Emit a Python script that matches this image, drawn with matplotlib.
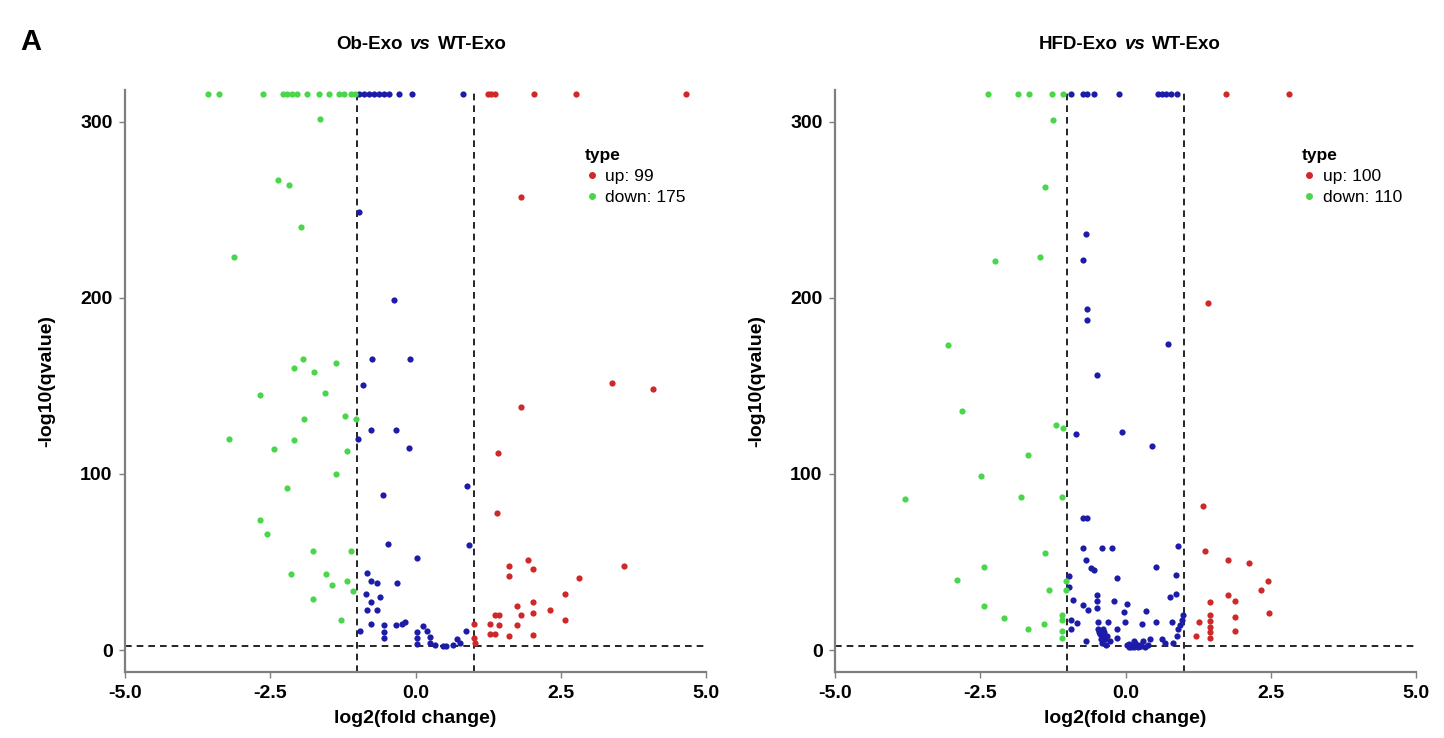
import matplotlib
matplotlib.use("Agg")
import matplotlib.pyplot as plt
from matplotlib.lines import Line2D

plt.rcParams['font.family'] = ['Liberation Sans', 'DejaVu Sans']

# ---- data: Ob-Exo vs WT-Exo ----
ob_up_x = [1.82, 3.38, 4.08, 1.81, 1.41, 1.40, 3.59, 1.94, 2.02, 1.60,
           1.60, 2.81, 2.58, 1.75, 2.02, 2.32, 1.82, 2.02, 2.58, 1.36,
           1.44, 1.28, 1.44, 1.75, 1.28, 1.36, 1.60, 2.02, 1.01, 1.01,
           1.02, 1.24, 1.30, 1.36, 2.03, 2.76, 4.66]
ob_up_y = [257, 151.6, 148, 138, 112, 78, 47.5, 51, 46, 47.5,
           42, 41, 32, 25, 27, 23, 20, 21, 17, 20,
           20, 15, 14, 14, 9, 9, 8, 8.5, 15, 7,
           4, 316, 316, 316, 316, 316, 316]

ob_down_x = [-1.64, -2.36, -2.17, -1.97, -3.13, -1.93, -2.10, -1.74, -1.37, -2.67,
             -1.56, -1.92, -1.22, -1.03, -3.21, -2.09, -2.43, -1.18, -1.37, -2.21,
             -2.67, -2.55, -1.77, -1.11, -2.14, -1.55, -1.43, -1.18, -1.08, -1.77,
             -1.28, -3.58, -3.39, -2.63, -2.29, -2.21, -2.13, -2.04, -1.87, -1.67,
             -1.49, -1.32, -1.24, -1.12, -1.05]
ob_down_y = [301.5, 267, 264, 240, 223, 165.5, 160, 158, 163, 145,
             146, 131, 133, 131, 120, 119, 114, 113, 100, 92,
             74, 66, 56, 56, 43, 43, 37, 39, 33.6, 29,
             17, 316, 316, 316, 316, 316, 316, 316, 316, 316,
             316, 316, 316, 316, 316]

ob_ns_x = [-0.97, -0.37, -0.75, -0.10, -0.90, -0.99, -0.77, -0.34, -0.12, -0.56,
           0.89, -0.48, 0.92, 0.03, -0.83, -0.76, -0.67, -0.32, -0.86, -0.61,
           -0.76, -0.83, -0.66, -0.76, -0.95, -0.55, -0.55, -0.55, -0.33, -0.24,
           -0.18, 0.03, 0.03, 0.03, 0.13, 0.20, 0.25, 0.25, 0.33, 0.47,
           0.53, 0.64, 0.71, 0.77, 0.86, -0.97, -0.88, -0.80, -0.72, -0.63,
           -0.55, -0.45, -0.28, -0.07, 0.81]
ob_ns_y = [249, 198.5, 165, 165, 150.5, 120, 125, 125, 115, 88,
           93, 60, 59.5, 52, 44, 39, 38, 38, 32, 30,
           27, 23, 23, 15, 11, 14, 10.5, 6.6, 14, 15,
           16, 10, 6.6, 3.4, 13.7, 10.7, 7.3, 3.8, 3, 2,
           2, 2.6, 6, 4, 11, 316, 316, 316, 316, 316,
           316, 316, 316, 316, 316]

# ---- data: HFD-Exo vs WT-Exo ----
hfd_up_x = [1.42, 1.34, 1.37, 1.77, 2.12, 2.45, 2.33, 1.77, 1.88, 1.46,
            2.47, 1.88, 1.27, 1.46, 1.46, 1.46, 1.46, 1.46, 1.88, 1.21,
            1.72, 2.82]
hfd_up_y = [197, 82, 56, 51, 49.5, 39, 34, 31, 28, 27,
            21, 19, 16, 20, 16.5, 13.3, 10, 7, 11, 7.7,
            316, 316]

hfd_down_x = [-1.25, -1.38, -2.24, -1.48, -3.06, -2.81, -1.20, -1.08, -1.68, -2.49,
              -3.80, -1.80, -1.09, -1.38, -2.43, -2.91, -1.32, -1.02, -1.02, -2.43,
              -2.10, -1.68, -1.41, -1.09, -1.09, -1.09, -1.09, -2.37, -1.86, -1.66,
              -1.26, -1.08]
hfd_down_y = [301, 263, 221, 223, 173, 135.6, 127.5, 125.8, 110.5, 99,
              86, 87, 87, 55, 47, 40, 34, 39, 34, 25,
              18, 12, 15, 20, 17, 11, 6.7, 316, 316, 316,
              316, 316]

hfd_ns_x = [-0.69, -0.74, -0.66, -0.66, 0.73, -0.50, -0.85, -0.06, 0.45, -0.74,
            -0.66, -0.73, -0.40, -0.24, 0.90, -0.68, -0.60, -0.55, -0.15, 0.53,
            0.875, -0.97, -0.97, 0.76, 0.875, -0.91, -0.49, -0.49, -0.49, -0.74,
            -0.65, -0.20, 0.03, 0.35, -0.02,
            -0.94, -0.84, -0.94, -0.48, -0.30, -0.01, 0.28, 0.52, 0.79, 0.94,
            -0.69, -0.47, -0.44, -0.41, -0.38, -0.35, -0.32, -0.26, -0.15, -0.15,
            0.03, 0.08, 0.12, 0.16, 0.20, 0.25, 0.30, 0.38, 0.42, 0.62,
            0.68, 0.82, 0.88, 0.91, 0.97, 0.99,
            -0.45, -0.42, -0.40, -0.37, -0.34, -0.43, -0.39, 0.05, 0.10, 0.14,
            0.18, 0.22, 0.27, 0.33, 0.06, 0.15, 0.24,
            -0.94, -0.74, -0.66, -0.55, -0.12, 0.55, 0.62, 0.70, 0.78, 0.88]
hfd_ns_y = [236, 221.5, 193.6, 187.3, 173.6, 156, 122.7, 124, 116, 75,
            75, 58, 58, 58, 59, 51, 46.5, 45.5, 41, 47,
            42.5, 42, 36, 30, 32, 28.5, 31.5, 28, 24, 25.5,
            22.5, 28, 26, 22, 21.5,
            17, 15.6, 12, 16, 16, 16, 15, 16, 16, 14,
            5, 12, 9, 7, 10, 6, 8, 5, 12, 7,
            3, 2, 2, 4, 3, 2, 5, 3, 6, 6,
            4, 4, 8, 12, 17, 20,
            10, 11, 4, 8, 3, 6, 12, 1.5, 1.5, 1.5,
            2.5, 1.5, 2, 1.5, 3.5, 5, 3,
            316, 316, 316, 316, 316, 316, 316, 316, 316, 316]

panels = [
    ("Ob-Exo", ob_up_x, ob_up_y, ob_down_x, ob_down_y, ob_ns_x, ob_ns_y, "up: 99", "down: 175"),
    ("HFD-Exo", hfd_up_x, hfd_up_y, hfd_down_x, hfd_down_y, hfd_ns_x, hfd_ns_y, "up: 100", "down: 110"),
]

red = "#CF2828"
green = "#4AD64A"
blue = "#1C1CA8"
spine_grey = "#7F7F7F"

fig = plt.figure(figsize=(14.44, 7.38), dpi=100)
lefts = [0.0866, 0.5783]
vs_pos = [0.291, 0.786]
legend_x = [0.77, 0.783]
title_size = 13.5

for i, (name, ux, uy, dx, dy, nx, ny, up_lab, down_lab) in enumerate(panels):
    ax = fig.add_axes([lefts[i], 0.0894, 0.4024, 0.7886])
    ax.scatter(nx, ny, s=20, color=blue, linewidths=0, zorder=3)
    ax.scatter(ux, uy, s=20, color=red, linewidths=0, zorder=3)
    ax.scatter(dx, dy, s=20, color=green, linewidths=0, zorder=3)

    # thresholds
    for xv in (-1, 1):
        ax.axvline(xv, color="black", ls=(0, (4, 3)), lw=1.2, zorder=2)
    ax.axhline(2, color="black", ls=(0, (4, 3)), lw=1.2, zorder=2)

    ax.set_xlim(-5, 5)
    ax.set_ylim(-12.5, 318)
    ax.set_xticks([-5, -2.5, 0, 2.5, 5])
    ax.set_xticklabels(["-5.0", "-2.5", "0.0", "2.5", "5.0"])
    ax.set_yticks([0, 100, 200, 300])

    for s in ("top", "right"):
        ax.spines[s].set_visible(False)
    for s in ("left", "bottom"):
        ax.spines[s].set_color(spine_grey)
        ax.spines[s].set_linewidth(1.6)
    ax.tick_params(direction="out", length=4, width=1, color=spine_grey,
                   labelsize=14, pad=5)
    for lab in ax.get_xticklabels() + ax.get_yticklabels():
        lab.set_fontweight("bold")

    ax.set_xlabel("log2(fold change)", fontsize=14, fontweight="bold", labelpad=6)
    ax.set_ylabel("-log10(qvalue)", fontsize=14, fontweight="bold", labelpad=18)

    handles = [Line2D([], [], ls="", marker="o", ms=4, color=red),
               Line2D([], [], ls="", marker="o", ms=4, color=green)]
    ax.legend(handles, [up_lab, down_lab], title="type", loc="upper left",
              bbox_to_anchor=(legend_x[i], 0.922), frameon=False,
              handlelength=0.8, handletextpad=0.4, labelspacing=0.35,
              alignment="left", borderpad=0.2,
              title_fontproperties={"weight": "bold", "size": 12.5},
              prop={"size": 12.5})

    # title with italic "vs"
    vs = fig.text(vs_pos[i], 0.94, "vs", fontsize=title_size, fontweight="bold",
                  fontstyle="italic", ha="center", va="center")
    ax.annotate(name, xy=(0, 0.5), xycoords=vs, xytext=(-5, 0),
                textcoords="offset points", ha="right", va="center",
                fontsize=title_size, fontweight="bold", annotation_clip=False)
    ax.annotate("WT-Exo", xy=(1, 0.5), xycoords=vs, xytext=(5, 0),
                textcoords="offset points", ha="left", va="center",
                fontsize=title_size, fontweight="bold", annotation_clip=False)

fig.text(0.014, 0.943, "A", fontsize=21, fontweight="bold",
         ha="left", va="center")

fig.savefig("out.png", dpi=100)
